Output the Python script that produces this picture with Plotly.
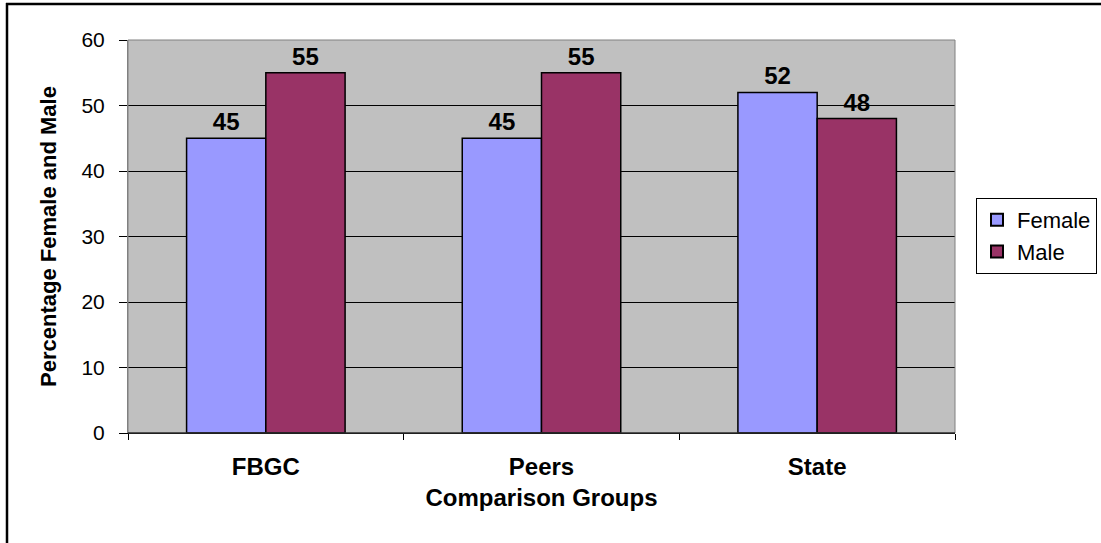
import plotly.graph_objects as go

categories = ["FBGC", "Peers", "State"]
female = [45, 45, 52]
male = [55, 55, 48]
y_ticks = [0, 10, 20, 30, 40, 50, 60]

W, H = 1101, 543
L, R, T, B = 128, 146, 40, 110
pw, ph = W - L - R, H - T - B

def px_x(p):
    return (p - L) / pw

def px_y(p):
    return (H - B - p) / ph

font = "Liberation Sans, Arial, sans-serif"

fig = go.Figure()
fig.add_trace(go.Bar(name="Female", x=categories, y=female,
                     marker=dict(color="#9999FF", line=dict(color="black", width=1.5)),
                     text=[str(v) for v in female], textposition="outside",
                     textfont=dict(family=font, size=24, color="black"), cliponaxis=False))
fig.add_trace(go.Bar(name="Male", x=categories, y=male,
                     marker=dict(color="#993366", line=dict(color="black", width=1.5)),
                     text=[str(v) for v in male], textposition="outside",
                     textfont=dict(family=font, size=24, color="black"), cliponaxis=False))

fig.update_traces(texttemplate="<b>%{text}</b>")

fig.update_layout(
    width=W, height=H,
    margin=dict(l=L, r=R, t=T, b=B, pad=0, autoexpand=False),
    paper_bgcolor="white", plot_bgcolor="#C0C0C0",
    barmode="group", bargap=0.425, bargroupgap=0,
    font=dict(family=font, color="black"),
    legend=dict(x=px_x(976), y=px_y(198), xanchor="left", yanchor="top",
                bordercolor="black", borderwidth=1, bgcolor="white",
                font=dict(size=22, family=font), tracegroupgap=0, itemsizing="constant"),
    showlegend=True,
    xaxis=dict(type="category", tickson="boundaries", ticks="outside", ticklen=6, tickcolor="black",
               showline=True, linecolor="black", linewidth=1, showgrid=False,
               ticklabelstandoff=12, automargin=False,
               tickfont=dict(size=24, family=font), tickprefix="<b>", ticksuffix="</b>",
               title=dict(text="<b>Comparison Groups</b>", font=dict(size=24, family=font), standoff=10)),
    yaxis=dict(range=[0, 60], tickvals=y_ticks, ticks="outside", ticklen=8, tickcolor="black",
               showline=True, linecolor="#808080", linewidth=1, showgrid=True, gridcolor="black", gridwidth=1,
               zeroline=False, ticklabelstandoff=10, automargin=False, tickfont=dict(size=21, family=font),
               title=dict(text="<b>Percentage Female and Male</b>", font=dict(size=22, family=font), standoff=18)),
    shapes=[
        dict(type="rect", xref="paper", yref="paper", x0=0, x1=1, y0=0, y1=1,
             line=dict(color="#808080", width=1), layer="above"),
        dict(type="line", xref="paper", yref="paper", x0=0, x1=1, y0=0, y1=0,
             line=dict(color="black", width=1), layer="above"),
        dict(type="line", xref="paper", yref="paper", x0=px_x(6), x1=px_x(W + 5), y0=px_y(4), y1=px_y(4),
             line=dict(color="black", width=2.5)),
        dict(type="line", xref="paper", yref="paper", x0=px_x(7), x1=px_x(7), y0=px_y(3), y1=px_y(H + 5),
             line=dict(color="black", width=2.5)),
    ],
)

fig.write_html("out.html", config={"displayModeBar": False},
               post_script="document.body.style.margin='0';document.body.style.overflow='hidden';")
